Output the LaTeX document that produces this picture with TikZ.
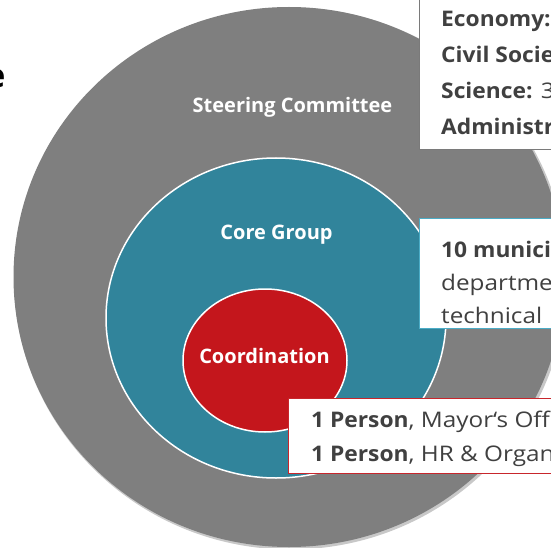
\documentclass[tikz,border=0pt]{standalone}
\usepackage{fontspec}
\setmainfont{Open Sans}
\newfontfamily\boxreg{Open Sans}[FakeStretch=1.13]
\newfontfamily\boxbold{Open Sans}[FakeStretch=1.06]
\newcommand{\bb}[1]{{\boxbold\bfseries #1}}
\usetikzlibrary{shapes.geometric}
\definecolor{ringgray}{HTML}{7F7F7F}
\definecolor{coreteal}{HTML}{31849B}
\definecolor{coordred}{HTML}{C4161C}
\definecolor{txtgray}{HTML}{404040}
\definecolor{boxgray}{HTML}{7A7A7A}
\definecolor{boxblue}{HTML}{4BACC6}
\definecolor{boxred}{HTML}{C8262C}
\definecolor{shadegray}{HTML}{C8C8C8}
\tikzset{
  disc/.style={ellipse, inner sep=0pt, outer sep=0pt},
  ringlabel/.style={text=white, inner sep=0pt, anchor=base, font=\fontsize{20}{24}\selectfont\bfseries},
  infobox/.style={fill=white, line width=1pt, anchor=north west, inner sep=0pt, outer sep=0pt},
  infotext/.style={text=txtgray, inner sep=0pt, anchor=base west, font=\fontsize{21.5}{26}\selectfont\boxreg}
}
\begin{document}
\begin{tikzpicture}[x=1pt,y=-1pt]
\useasboundingbox (0,0) rectangle (551,548);
\clip (0,0) rectangle (551,548);
\fill[white] (0,0) rectangle (551,548);

% partial title letter at the left edge
\node[inner sep=0pt, anchor=base east, font=\fontsize{33}{40}\selectfont\bfseries, text=black] (title) at (5.5,88) {e};

% rings
\node[disc, fill=shadegray, minimum width=553pt, minimum height=542pt] (steershadow) at (290.5,278.5) {};
\node[disc, fill=ringgray, minimum width=551pt, minimum height=540pt] (steer) at (289,277) {};
\node[disc, fill=coreteal, draw=white, line width=1.5pt, minimum width=340pt, minimum height=320pt] (core) at (276,318) {};
\node[disc, fill=coordred, draw=white, line width=1.5pt, minimum width=164pt, minimum height=143pt] (coordn) at (265,360.5) {};

% ring labels
\node[ringlabel] (lsteer) at (292.5,113) {Steering Committee};
\node[ringlabel] (lcore) at (276.5,239.5) {Core Group};
\node[ringlabel] (lcoord) at (264.5,363) {Coordination};

% box 1 (steering committee)
\node[infobox, draw=boxgray, minimum width=200pt, minimum height=160pt] (box1) at (419,-10) {};
\node[infotext] (b1l1) at (441,26.7) {\bb{Economy:}};
\node[infotext] (b1l2) at (441,63) {\bb{Civil Socie}};
\node[infotext] (b1l3) at (441,99) {\bb{Science:} 3};
\node[infotext] (b1l4) at (441,135) {\bb{Administr}};

% box 2 (core group)
\node[infobox, draw=boxblue, minimum width=200pt, minimum height=110pt] (box2) at (419,218) {};
\node[infotext] (b2l1) at (441,257) {\bb{10 munici}};
\node[infotext] (b2l2) at (441,290) {departme};
\node[infotext] (b2l3) at (441,323) {technical};

% box 3 (coordination)
\node[infobox, draw=boxred, minimum width=300pt, minimum height=75pt] (box3) at (288,398) {};
\node[infotext] (b3l1) at (311,427.7) {\bb{1 Person}, Mayor‘s Off};
\node[infotext] (b3l2) at (311,461.7) {\bb{1 Person}, HR \& Organ};
\end{tikzpicture}
\end{document}
